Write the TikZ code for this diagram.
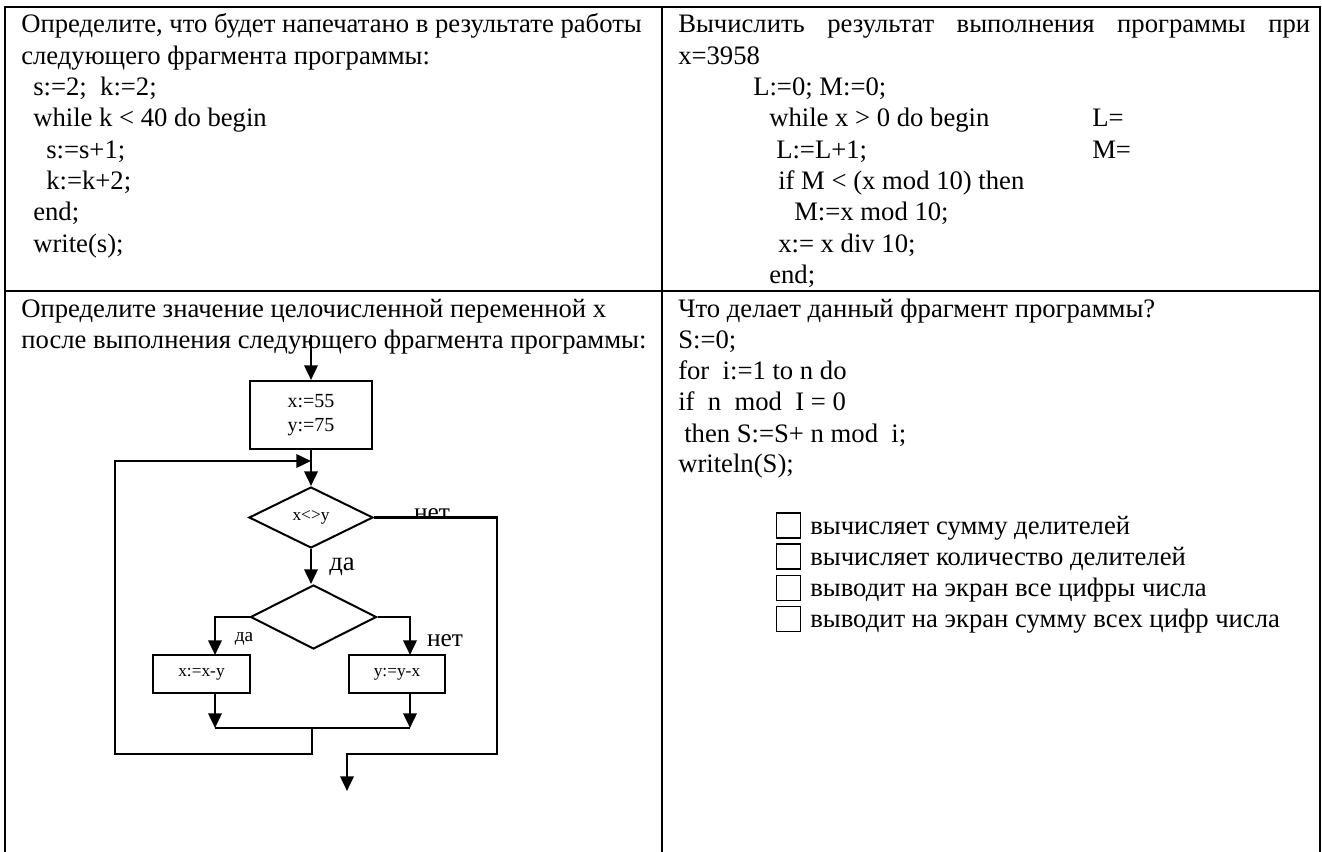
\documentclass[tikz,border=0pt]{standalone}
\usepackage{fontspec}
\setmainfont{Liberation Serif}
\usetikzlibrary{arrows.meta,shapes.geometric,positioning}

\begin{document}
\begin{tikzpicture}[
x=0.75pt, y=-0.75pt,
txt/.style  = {anchor=base west, inner sep=0pt, font=\fontsize{20}{23}\selectfont},
lbl/.style  = {inner sep=0pt, font=\fontsize{19}{22}\selectfont},
blk/.style  = {draw, line width=1.5pt, minimum width=72.5pt, minimum height=28.5pt, inner sep=0pt},
cond/.style = {diamond, draw, line width=1.5pt, minimum width=93pt, minimum height=45.75pt, inner sep=0pt},
chk/.style  = {draw, line width=1.1pt, minimum width=18pt, minimum height=18.75pt, inner sep=0pt},
arr/.style  = {line width=1.9pt, -{Triangle[length=11pt,width=10pt]}},
ln/.style   = {line width=1.5pt}
                        ]
\useasboundingbox (0,0) rectangle (1322,852);
\fill[white] (0,0) rectangle (1322,852);
%
% table
\draw[line width=1.5pt] (5,852) -- (5,7) -- (1320,7) -- (1320,852);
\draw[line width=1.5pt] (662,7) -- (662,852);
\draw[line width=1.5pt] (5,291) -- (1320,291);
%
% top left
\foreach \x/\t [count=\i] in {21/{Определите, что будет напечатано в результате работы},
    21/{следующего фрагмента программы:}, 33/{s:=2;\ \ k:=2;}, 33/{while k < 40 do begin},
    46/{s:=s+1;}, 46/{k:=k+2;}, 33/{end;}, 33/{write(s);}}
{
    \node[txt] (a\i) at (\x,1.7+31.3*\i) {\t};
}
%
% top right
\node[txt] (b1) at (678,33) {\makebox[474pt][s]{Вычислить результат выполнения программы при}};
\foreach \x/\t [count=\i from 2] in {678/{x=3958}, 753/{L:=0; M:=0;}, 769/{while x > 0 do begin},
    776/{L:=L+1;}, 778/{if M < (x mod 10) then}, 794/{M:=x mod 10;}, 778/{x:= x div 10;}, 769/{end;}}
{
    \node[txt] (b\i) at (\x,1.7+31.3*\i) {\t};
}
\node[txt] (lres) at (1092,1.7+31.3*4) {L=};
\node[txt] (mres) at (1092,1.7+31.3*5) {M=};
%
% bottom left
\node[txt] (c1) at (21,318) {Определите значение целочисленной переменной x};
\node[txt] (c2) at (21,349) {после выполнения следующего фрагмента программы:};
%
% bottom right
\foreach \x/\t [count=\i] in {678/{Что делает данный фрагмент программы?}, 678/{S:=0;},
    678/{for\ \ i:=1 to n do}, 678/{if\ \ n\ \ mod\ \ I = 0}, 684/{then S:=S+ n mod\ \ i;}, 678/{writeln(S);}}
{
    \node[txt] (d\i) at (\x,287+31*\i) {\t};
}
\foreach \t [count=\i] in {вычисляет сумму делителей, вычисляет количество делителей,
    выводит на экран все цифры числа, выводит на экран сумму всех цифр числа}
{
    \node[chk] (box\i) at (788.5,494+31.3*\i) {};
    \node[txt] (opt\i) at (810,502.7+31.3*\i) {\t};
}
%
% flowchart
\node[blk, minimum width=91.5pt, minimum height=51pt, align=center,
      font=\fontsize{15}{18}\selectfont] (init) at (311,415) {x:=55\\y:=75};
\node[cond, font=\fontsize{13}{15}\selectfont] (if1) at (311,517.5) {x<>y};
\node[cond, minimum width=94.5pt, minimum height=48pt] (if2) at (313.5,617) {};
\node[blk, font=\fontsize{13}{15}\selectfont] (sub1) at (201.5,674) {x:=x-y};
\node[blk, minimum width=72pt, font=\fontsize{13}{15}\selectfont] (sub2) at (397,674) {y:=y-x};
%
\coordinate (start) at (311,335);
\coordinate (join) at (311,461);
\coordinate (l1) at (215,655);
\coordinate (r1) at (410,655);
\coordinate (m1) at (215,728);
\coordinate (m2) at (410,728);
\coordinate (mj) at (312,728);
\coordinate (back) at (115,754);
\coordinate (rc) at (497,754);
\coordinate (out) at (347,791);
%
\draw[arr] (start) -- (init);
\draw[arr] (init) -- (if1);
\draw[arr] (if1.south) -- (if1.south |- if2.north);
\draw[arr] (if2.west) -| (l1);
\draw[arr] (if2.east) -| (r1);
\draw[arr] (sub1.south -| m1) -- (m1);
\draw[arr] (sub2.south -| m2) -- (m2);
\draw[ln] (m1) -- (m2);
\draw[arr] (mj) |- (back) |- (join);
\draw[arr] (if1.east) -| (rc) -| (out);
%
\node[lbl, font=\fontsize{20}{22}\selectfont] (yes1) at (342,567) {да};
\node[lbl, font=\fontsize{14.5}{17}\selectfont] (yes2) at (244,639) {да};
\node[lbl] (no2) at (445,641) {нет};
\begin{scope}
\clip (400,480) rectangle (470,517.5);
\node[lbl, anchor=base] (no1) at (432,520) {нет};
\end{scope}

\end{tikzpicture}
\end{document}
